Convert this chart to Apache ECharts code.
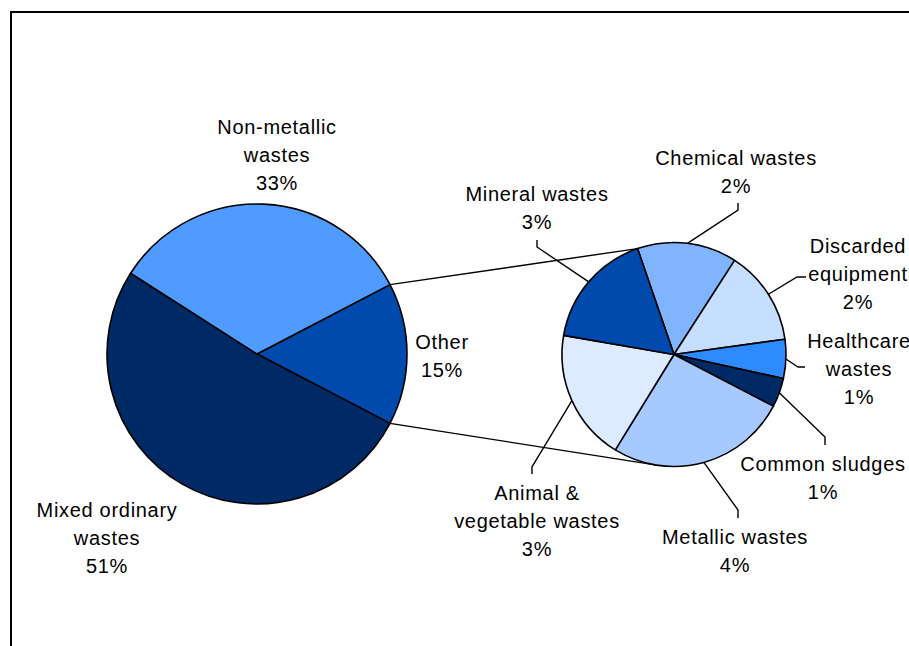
<!DOCTYPE html>
<html>
<head>
<meta charset="utf-8">
<script src="https://cdn.jsdelivr.net/npm/echarts@6/dist/echarts.min.js"></script>
<style>
  html, body { margin: 0; padding: 0; background: #ffffff; }
  #chart { width: 909px; height: 646px; }
  /* slightly open tracking for the data labels */
  #chart text { letter-spacing: 0.7px; }
</style>
</head>
<body>
<div id="chart"></div>
<script>
// Main breakdown (% of total), listed clockwise starting with the split-off "Other" slice
const mainNames  = ['Other', 'Mixed ordinary wastes', 'Non-metallic wastes'];
const mainLabels = ['Other', 'Mixed ordinary\nwastes', 'Non-metallic\nwastes'];
const mainValues = [15.3, 51.4, 33.3];

// Breakdown of "Other" (% of total), clockwise
const otherNames  = ['Chemical wastes', 'Discarded equipment', 'Healthcare wastes', 'Common sludges',
                     'Metallic wastes', 'Animal & vegetable wastes', 'Mineral wastes'];
const otherLabels = ['Chemical wastes', 'Discarded\nequipment', 'Healthcare\nwastes', 'Common sludges',
                     'Metallic wastes', 'Animal &\nvegetable wastes', 'Mineral wastes'];
const otherValues = [2.2, 2.1, 0.86, 0.64, 4.0, 2.9, 2.6];

// Slice colours
const mainColors  = ['#004aad', '#002a66', '#4f9bff'];
const otherColors = ['#80b4ff', '#c6deff', '#2e8bff', '#002a66', '#a6caff', '#dcebff', '#004aad'];

// Label placement (text block centre) and leader-line bend/end points
const mainSpots = [
  { x: 442, y: 356 },
  { x: 107, y: 538 },
  { x: 277, y: 155 }
];
const otherSpots = [
  { x: 736, y: 172, bend: [738, 210], end: [738, 203] },
  { x: 858, y: 274, bend: [797, 277], end: [806, 277] },
  { x: 859, y: 369, bend: [798, 367], end: [805, 367] },
  { x: 823, y: 478, bend: [825, 437], end: [825, 445] },
  { x: 735, y: 551, bend: [738, 510], end: [738, 518] },
  { x: 537, y: 521, bend: [532, 467], end: [532, 474] },
  { x: 537, y: 208, bend: [537, 247], end: [537, 240] }
];

const FONT = '"Liberation Sans", Arial, sans-serif';
const chart = echarts.init(document.getElementById('chart'), null, { renderer: 'svg' });

const pct = v => Math.round(v) + '%';

const labelStyle = {
  show: true,
  position: 'outside',
  color: '#000',
  fontFamily: FONT,
  fontSize: 20,
  lineHeight: 28,
  align: 'center'
};

const mainTotal = mainValues.reduce((a, b) => a + b, 0);

chart.setOption({
  animation: false,
  backgroundColor: '#ffffff',
  series: [
    {
      type: 'pie',
      silent: true,
      center: [257, 354],
      radius: 150,
      // centre the "Other" slice on the right-hand side
      startAngle: mainValues[0] / mainTotal * 180,
      clockwise: true,
      avoidLabelOverlap: false,
      itemStyle: { borderColor: '#000', borderWidth: 1.6 },
      label: Object.assign({}, labelStyle, {
        formatter: p => mainLabels[p.dataIndex] + '\n' + pct(p.value)
      }),
      labelLine: { show: false },
      labelLayout: p => ({
        x: mainSpots[p.dataIndex].x,
        y: mainSpots[p.dataIndex].y,
        align: 'center',
        verticalAlign: 'middle'
      }),
      emphasis: { disabled: true },
      data: mainNames.map((n, i) => ({
        name: n, value: mainValues[i], itemStyle: { color: mainColors[i] }
      }))
    },
    {
      type: 'pie',
      silent: true,
      center: [674, 354.5],
      radius: 112,
      startAngle: 109,
      clockwise: true,
      avoidLabelOverlap: false,
      itemStyle: { borderColor: '#000', borderWidth: 1.6 },
      label: Object.assign({}, labelStyle, {
        formatter: p => otherLabels[p.dataIndex] + '\n' + pct(p.value)
      }),
      labelLine: { show: true, length: 10, length2: 10, lineStyle: { color: '#000', width: 1.4 } },
      labelLayout: p => {
        const s = otherSpots[p.dataIndex];
        const start = p.labelLinePoints ? p.labelLinePoints[0] : s.bend;
        return {
          x: s.x,
          y: s.y,
          align: 'center',
          verticalAlign: 'middle',
          labelLinePoints: [start, s.bend, s.end]
        };
      },
      emphasis: { disabled: true },
      data: otherNames.map((n, i) => ({
        name: n, value: otherValues[i], itemStyle: { color: otherColors[i] }
      }))
    }
  ]
});

// Connector lines between the "Other" slice and the breakdown pie
function rimPoint(l, a) {
  return [l.cx + l.r * Math.cos(a), l.cy + l.r * Math.sin(a)];
}
const model = chart.getModel();
const otherLayout = model.getSeriesByIndex(0).getData().getItemLayout(0);
const subLayout = model.getSeriesByIndex(1).getData().getItemLayout(0);

const p1 = rimPoint(otherLayout, otherLayout.startAngle);
const p2 = rimPoint(otherLayout, otherLayout.endAngle);
const upper = p1[1] < p2[1] ? p1 : p2;
const lower = p1[1] < p2[1] ? p2 : p1;

// upper line meets the breakdown pie where its first slice starts
const q1 = rimPoint(subLayout, subLayout.startAngle);
// lower line runs tangent to the breakdown pie
const vx = lower[0] - subLayout.cx, vy = lower[1] - subLayout.cy;
const d = Math.hypot(vx, vy);
const base = Math.atan2(vy, vx);
const off = Math.acos(subLayout.r / d);
const ta = rimPoint(subLayout, base - off), tb = rimPoint(subLayout, base + off);
const q2 = ta[1] > tb[1] ? ta : tb;

chart.setOption({
  graphic: [
    {
      type: 'rect', silent: true, z: 100,
      shape: { x: 11, y: 12, width: 1200, height: 1000 },
      style: { fill: null, stroke: '#000', lineWidth: 2 }
    },
    {
      type: 'line', silent: true, z: -1,
      shape: { x1: upper[0], y1: upper[1], x2: q1[0], y2: q1[1] },
      style: { stroke: '#000', lineWidth: 1.4 }
    },
    {
      type: 'line', silent: true, z: -1,
      shape: { x1: lower[0], y1: lower[1], x2: q2[0], y2: q2[1] },
      style: { stroke: '#000', lineWidth: 1.4 }
    }
  ]
});
</script>
</body>
</html>
